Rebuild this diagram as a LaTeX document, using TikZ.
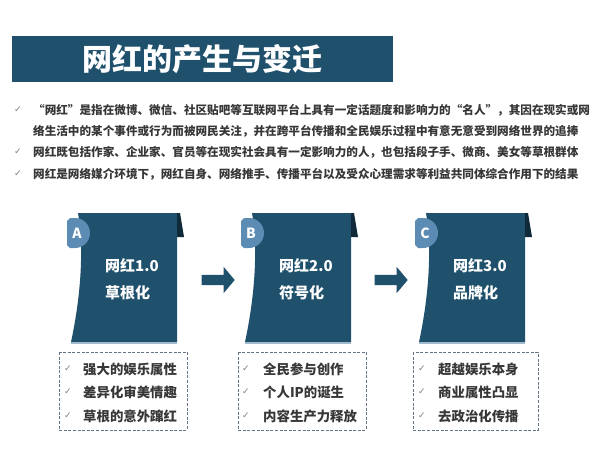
\documentclass[tikz,border=0pt]{standalone}
\usepackage{fontspec}
\setmainfont{Noto Sans CJK SC}
\newfontfamily\symfont{DejaVu Sans}
\usetikzlibrary{shapes.arrows}
\definecolor{cardblue}{RGB}{31,80,108}
\definecolor{foldblue}{RGB}{16,42,58}
\definecolor{badgeblue}{RGB}{92,140,180}
\definecolor{baseblue}{RGB}{160,186,206}
\definecolor{boxgray}{RGB}{100,116,132}
\definecolor{textgray}{RGB}{55,55,55}

\begin{document}
\begin{tikzpicture}[x=1pt,y=-1pt,line cap=round,line join=round,
  card/.style={fill=cardblue},
  fold/.style={fill=foldblue},
  badge/.style={fill=badgeblue},
  base/.style={draw=baseblue,line width=1.6pt,line cap=butt},
  dashbox/.style={draw=boxgray,line width=0.9pt,dash pattern=on 3pt off 1.6pt,line cap=butt},
  tick/.style={text=gray,font=\symfont\fontsize{9}{9}\selectfont,inner sep=0pt},
  intro/.style={anchor=west,text=textgray,inner sep=0pt,font=\fontsize{11.6}{12}\selectfont\bfseries},
  item/.style={anchor=west,text=textgray,inner sep=0pt,font=\fontsize{13.4}{14}\selectfont\bfseries},
  cardtext/.style={anchor=west,text=white,align=left,inner sep=0pt,font=\fontsize{15}{27}\selectfont\bfseries},
  letter/.style={text=white,inner sep=0pt,font=\fontsize{14}{14}\selectfont\bfseries},
  step arrow/.style={single arrow,fill=cardblue,inner sep=5pt,minimum height=33pt,minimum width=26pt,
    single arrow head extend=8pt,single arrow tip angle=100}]
\useasboundingbox (0,0) rectangle (600,450);
% title
\fill[cardblue] (12,36) rectangle (393,82);
\node[text=white,font=\fontsize{30}{32}\selectfont\bfseries] (title) at (202,59) {网红的产生与变迁};
% intro lines
\node[tick] (t1) at (18,110) {✓};
\node[intro] (l1) at (33,110) {“网红”是指在微博、微信、社区贴吧等互联网平台上具有一定话题度和影响力的“名人”，其因在现实或网};
\node[intro] (l2) at (33,131) {络生活中的某个事件或行为而被网民关注，并在跨平台传播和全民娱乐过程中有意无意受到网络世界的追捧};
\node[tick] (t3) at (18,152) {✓};
\node[intro] (l3) at (33,152) {网红既包括作家、企业家、官员等在现实社会具有一定影响力的人，也包括段子手、微商、美女等草根群体};
\node[tick] (t4) at (18,174) {✓};
\node[intro] (l4) at (33,174) {网红是网络媒介环境下，网红自身、网络推手、传播平台以及受众心理需求等利益共同体综合作用下的结果};
% card A
\fill[card] (78,213) -- (177,213) -- (177,342) -- (71,342) .. controls (79,305) and (85,255) .. (78,213) -- cycle;
\fill[fold] (177,213) -- (180,213) -- (184,237) -- (177,237) -- cycle;
\draw[base] (71,343) -- (177,343);
\fill[badge] (75,218) arc[start angle=-90,end angle=90,radius=15] -- (70,248) -- (67,245) -- (67,221) -- (70,218) -- cycle;
\node[letter] (bA) at (77,233) {A};
\node[cardtext] (cA) at (105,279) {网红1.0\\草根化};
% card B
\begin{scope}[xshift=174pt]
\fill[card] (78,213) -- (177,213) -- (177,342) -- (71,342) .. controls (79,305) and (85,255) .. (78,213) -- cycle;
\fill[fold] (177,213) -- (180,213) -- (184,237) -- (177,237) -- cycle;
\draw[base] (71,343) -- (177,343);
\fill[badge] (75,218) arc[start angle=-90,end angle=90,radius=15] -- (70,248) -- (67,245) -- (67,221) -- (70,218) -- cycle;
\node[letter] (bB) at (77,233) {B};
\node[cardtext] (cB) at (105,279) {网红2.0\\符号化};
\end{scope}
% card C
\begin{scope}[xshift=348pt]
\fill[card] (78,213) -- (177,213) -- (177,342) -- (71,342) .. controls (79,305) and (85,255) .. (78,213) -- cycle;
\fill[fold] (177,213) -- (180,213) -- (184,237) -- (177,237) -- cycle;
\draw[base] (71,343) -- (177,343);
\fill[badge] (75,218) arc[start angle=-90,end angle=90,radius=15] -- (70,248) -- (67,245) -- (67,221) -- (70,218) -- cycle;
\node[letter] (bC) at (77,233) {C};
\node[cardtext] (cC) at (105,279) {网红3.0\\品牌化};
\end{scope}
% arrows
\node[step arrow] (aAB) at (216,280) {};
\node[step arrow] (aBC) at (389,280) {};
% lists
\draw[dashbox] (59,352) rectangle (187,430);
\node[tick] (kA1) at (68,369) {✓};
\node[item] (iA1) at (83,369) {强大的娱乐属性};
\node[tick] (kA2) at (68,392) {✓};
\node[item] (iA2) at (83,392) {差异化审美情趣};
\node[tick] (kA3) at (68,416) {✓};
\node[item] (iA3) at (83,416) {草根的意外蹿红};
\draw[dashbox] (238,352) rectangle (366,430);
\node[tick] (kB1) at (246,369) {✓};
\node[item] (iB1) at (263,369) {全民参与创作};
\node[tick] (kB2) at (246,392) {✓};
\node[item] (iB2) at (263,392) {个人IP的诞生};
\node[tick] (kB3) at (246,416) {✓};
\node[item] (iB3) at (263,416) {内容生产力释放};
\draw[dashbox] (413,352) rectangle (538,430);
\node[tick] (kC1) at (422,369) {✓};
\node[item] (iC1) at (438,369) {超越娱乐本身};
\node[tick] (kC2) at (422,392) {✓};
\node[item] (iC2) at (438,392) {商业属性凸显};
\node[tick] (kC3) at (422,416) {✓};
\node[item] (iC3) at (438,416) {去政治化传播};
\end{tikzpicture}
\end{document}
